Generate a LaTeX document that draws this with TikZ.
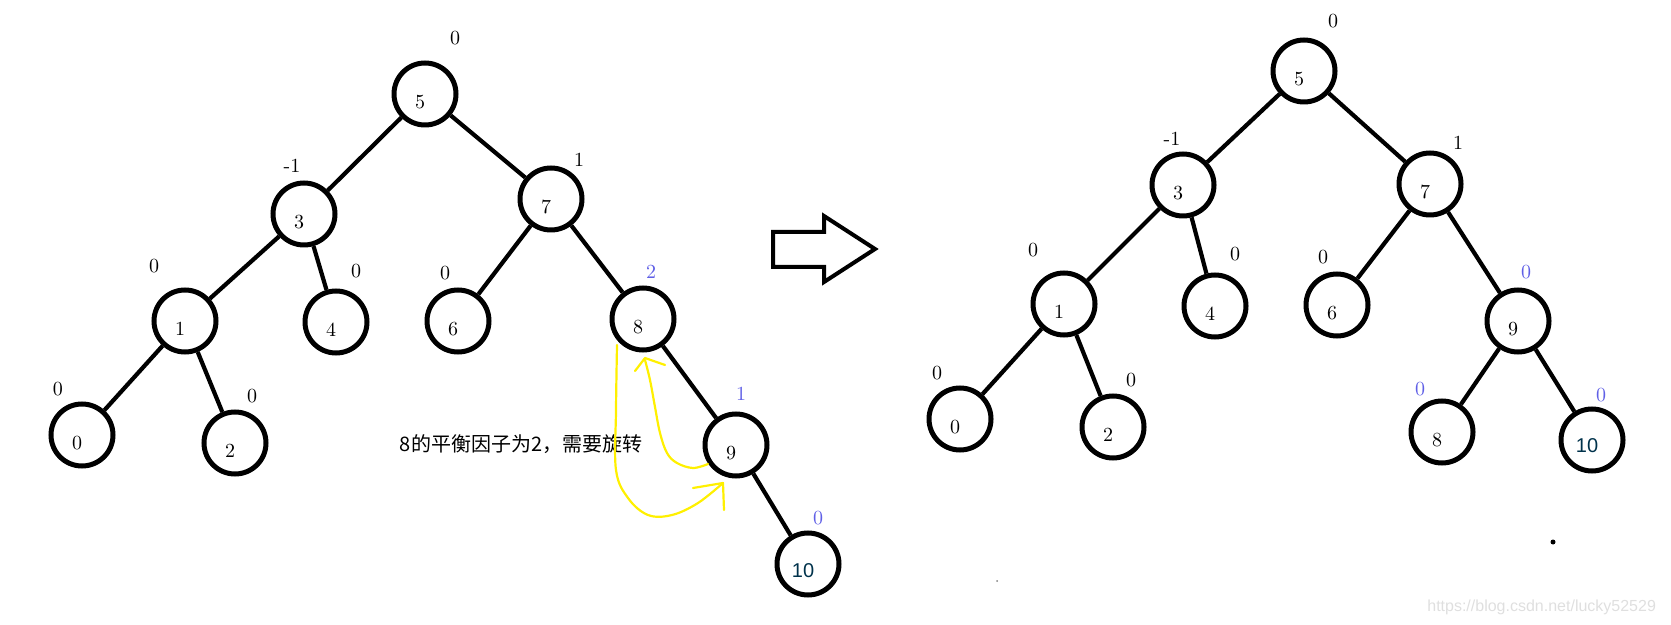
\documentclass[tikz,border=0pt]{standalone}
\usepackage{fontspec}
\newfontfamily\cjk{Noto Sans CJK SC}
\newfontfamily\tenfont{Liberation Sans}
\definecolor{bfblue}{RGB}{95,95,230}
\definecolor{tendark}{RGB}{0,50,75}
\definecolor{markyellow}{RGB}{255,240,0}
\begin{document}
\begin{tikzpicture}[x=0.5pt, y=-0.5pt,
  vertex/.style={draw, circle, line width=2.5pt, minimum size=31pt, inner sep=0pt,
    text height=14.4pt, text depth=0pt, execute at end node={\hspace*{5pt}}},
  tenvertex/.style={vertex, text=tendark, font=\tenfont, text height=13pt, execute at end node={}},
  bf/.style={inner sep=0pt},
  bfhot/.style={bf, text=bfblue},
  edge/.style={line width=2.1pt},
  scribble/.style={markyellow, line width=1.1pt, line cap=round, line join=round}]
\useasboundingbox (0,0) rectangle (1671,625);
\node[vertex] (L5) at (425,94) {5};
\node[vertex] (L3) at (304,214) {3};
\node[vertex] (L7) at (551,199) {7};
\node[vertex] (L1) at (185,321) {1};
\node[vertex] (L4) at (336,322) {4};
\node[vertex] (L6) at (458,321) {6};
\node[vertex] (L8) at (643,319) {8};
\node[vertex] (L0) at (82,435) {0};
\node[vertex] (L2) at (235,443) {2};
\node[vertex] (L9) at (736,445) {9};
\node[tenvertex] (L10) at (808,564) {10};
\node[bf] (bL5) at (455,38) {0};
\node[bf] (bL3) at (292,166) {-1};
\node[bf] (bL7) at (579,160) {1};
\node[bf] (bL1) at (154,266) {0};
\node[bf] (bL4) at (356,271) {0};
\node[bf] (bL6) at (445,273) {0};
\node[bfhot] (bL8) at (651,272) {2};
\node[bf] (bL0) at (58,389) {0};
\node[bf] (bL2) at (252,396) {0};
\node[bfhot] (bL9) at (741,394) {1};
\node[bfhot] (bL10) at (818,518) {0};
\draw[edge] (L5) -- (L3);
\draw[edge] (L5) -- (L7);
\draw[edge] (L3) -- (L1);
\draw[edge] (L3) -- (L4);
\draw[edge] (L7) -- (L6);
\draw[edge] (L7) -- (L8);
\draw[edge] (L1) -- (L0);
\draw[edge] (L1) -- (L2);
\draw[edge] (L8) -- (L9);
\draw[edge] (L9) -- (L10);
\node (note) at (521,444) {\cjk 8的平衡因子为2，需要旋转};
\draw[scribble] plot[smooth, tension=0.6] coordinates {(617,345) (616,410) (616,470) (628,498) (648,515) (672,515) (698,503) (723,483)};
\draw[scribble] (693,488) -- (723,483) -- (724,510);
\draw[scribble] plot[smooth, tension=0.6] coordinates {(708,464) (693,468) (677,463) (667,453) (660,433) (655,407) (650,380) (645,360)};
\draw[scribble] (635,371) -- (645,358) -- (665,365);
\draw[line width=2pt, line join=miter] (773,232) -- (824,232) -- (824,216) -- (875,249) -- (824,282) -- (824,267) -- (773,267) -- cycle;
\node[vertex] (R5) at (1304,71) {5};
\node[vertex] (R3) at (1183,185) {3};
\node[vertex] (R7) at (1430,184) {7};
\node[vertex] (R1) at (1064,304) {1};
\node[vertex] (R4) at (1215,306) {4};
\node[vertex] (R6) at (1337,305) {6};
\node[vertex] (R9) at (1518,321) {9};
\node[vertex] (R0) at (960,419) {0};
\node[vertex] (R2) at (1113,427) {2};
\node[vertex] (R8) at (1442,432) {8};
\node[tenvertex] (R10) at (1592,440) {10};
\node[bf] (bR5) at (1333,21) {0};
\node[bf] (bR3) at (1172,139) {-1};
\node[bf] (bR7) at (1458,143) {1};
\node[bf] (bR1) at (1033,250) {0};
\node[bf] (bR4) at (1235,254) {0};
\node[bf] (bR6) at (1323,257) {0};
\node[bfhot] (bR9) at (1526,272) {0};
\node[bf] (bR0) at (937,373) {0};
\node[bf] (bR2) at (1131,380) {0};
\node[bfhot] (bR8) at (1420,389) {0};
\node[bfhot] (bR10) at (1601,395) {0};
\draw[edge] (R5) -- (R3);
\draw[edge] (R5) -- (R7);
\draw[edge] (R3) -- (R1);
\draw[edge] (R3) -- (R4);
\draw[edge] (R7) -- (R6);
\draw[edge] (R7) -- (R9);
\draw[edge] (R1) -- (R0);
\draw[edge] (R1) -- (R2);
\draw[edge] (R9) -- (R8);
\draw[edge] (R9) -- (R10);
\fill (1553,542) circle (2.5);
\fill[gray] (997,581) circle (1);
\node[anchor=east, text=gray!25, font=\tenfont\fontsize{8}{9}\selectfont] (mark) at (1663,607) {https://blog.csdn.net/lucky52529};
\end{tikzpicture}
\end{document}
